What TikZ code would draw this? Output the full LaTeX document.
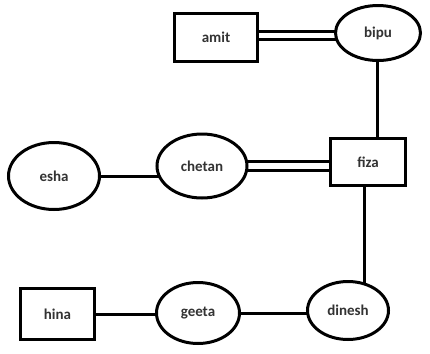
\documentclass[tikz,border=0pt]{standalone}
\usepackage{fontspec}
\setmainfont{Carlito}
\usetikzlibrary{shapes.geometric,backgrounds}
\begin{document}
\begin{tikzpicture}[x=1bp,y=-1bp,
  every node/.style={font=\fontsize{15bp}{17bp}\selectfont\bfseries, text=black!80, line width=3bp, fill=white, draw=black, inner sep=0pt},
  entbox/.style={rectangle},
  attr/.style={ellipse},
  link/.style={line width=3bp, black},
  dlink/.style={double=white, double distance=5.5bp, line width=3bp, black}]
\useasboundingbox (0,0) rectangle (430,354);
\node[entbox, minimum width=83bp, minimum height=48bp] (amit) at (216,37.5) {amit};
\node[attr, minimum width=85bp, minimum height=55bp] (bipu) at (378,33) {bipu};
\node[attr, minimum width=91bp, minimum height=67bp] (esha) at (54,176) {esha};
\node[attr, minimum width=90bp, minimum height=64bp] (chetan) at (202,166) {chetan};
\node[entbox, minimum width=75bp, minimum height=47bp] (fiza) at (368,162) {fiza};
\node[entbox, minimum width=74bp, minimum height=51bp] (hina) at (57.5,314) {hina};
\node[attr, minimum width=83bp, minimum height=61bp] (geeta) at (198,313) {geeta};
\node[attr, minimum width=81bp, minimum height=58bp] (dinesh) at (348,310.5) {dinesh};
\coordinate (ab) at (0,35.5);
\coordinate (fd) at (364.5,0);
\coordinate (bf) at (377.5,0);
\begin{scope}[on background layer]
\draw[dlink] (ab -| amit.center) -- (ab -| bipu.center);
\draw[link] (bf |- bipu.center) -- (bf |- fiza.center);
\draw[link] (esha.center) -- (esha.center -| chetan.center);
\draw[dlink] (chetan.center) -- (chetan.center -| fiza.center);
\draw[link] (fd |- fiza.center) -- (fd |- dinesh.center);
\draw[link] (hina.center) -- (hina.center -| geeta.center);
\draw[link] (geeta.center) -- (geeta.center -| dinesh.center);
\end{scope}
\end{tikzpicture}
\end{document}
